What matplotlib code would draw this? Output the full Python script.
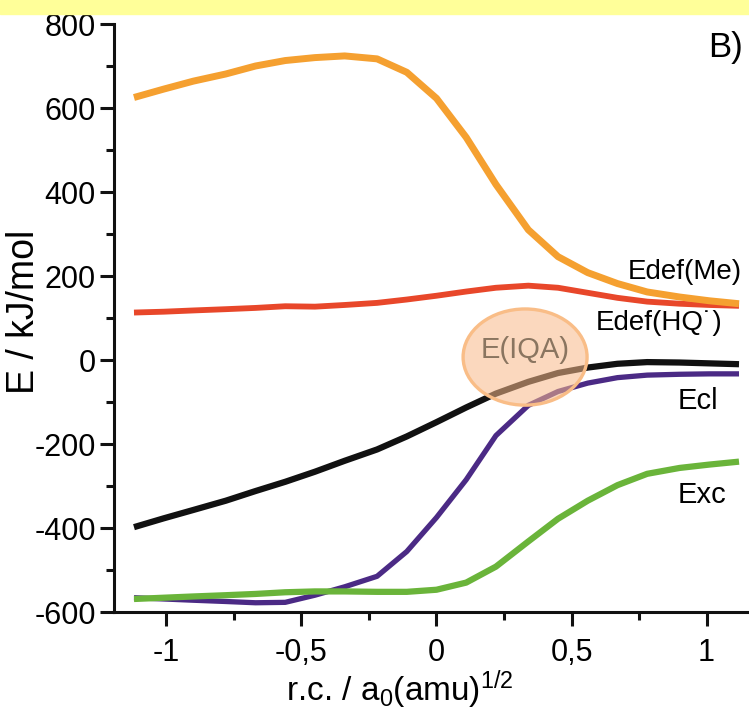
import matplotlib

matplotlib.use("Agg")
from matplotlib import pyplot as plt
from matplotlib.patches import Ellipse, Rectangle
from matplotlib.ticker import FixedLocator, MultipleLocator

# reaction coordinate, a0 (amu)^1/2
rc = [-1.12, -1.01, -0.90, -0.78, -0.67, -0.56, -0.45, -0.34, -0.22, -0.11, 0.0,
      0.11, 0.22, 0.34, 0.45, 0.56, 0.67, 0.78, 0.90, 1.01, 1.12]

# energies in kJ/mol
edef_me = [625, 645, 664, 681, 700, 713, 720, 724, 717, 685, 623,
           530, 418, 310, 246, 208, 182, 162, 150, 141, 134]
edef_hq = [113, 115, 118, 121, 124, 128, 127, 131, 136, 144, 153,
           163, 172, 177, 172, 160, 148, 139, 134, 131, 129]
e_iqa = [-398, -377, -357, -335, -312, -290, -266, -240, -213, -182, -148,
         -113, -80, -52, -31, -18, -9, -5, -6, -8, -10]
e_cl = [-566, -569, -572, -575, -578, -577, -560, -540, -515, -456, -375,
        -285, -180, -108, -75, -55, -42, -36, -34, -33, -33]
e_xc = [-569, -566, -563, -560, -557, -553, -551, -551, -552, -552, -547,
        -530, -492, -432, -378, -335, -298, -271, -257, -249, -242]

x_ticks = [-1.0, -0.5, 0.0, 0.5, 1.0]
x_ticklabels = ["-1", "-0,5", "0", "0,5", "1"]
y_ticks = [-600, -400, -200, 0, 200, 400, 600, 800]

plt.rcParams["font.family"] = ["Liberation Sans", "DejaVu Sans"]
plt.rcParams["axes.unicode_minus"] = False
plt.rcParams["mathtext.fontset"] = "custom"
plt.rcParams["mathtext.rm"] = "Liberation Sans"
plt.rcParams["mathtext.it"] = "Liberation Sans"

W, H = 749, 718
fig = plt.figure(figsize=(W / 100, H / 100), dpi=100)
fig.patches.append(
    Rectangle((0, 1 - 14 / H), 1, 14 / H, transform=fig.transFigure,
              color="#ffff99", zorder=0)
)

ax = fig.add_axes([114 / W, 1 - 612 / H, 635 / W, 588 / H])

ax.plot(rc, edef_hq, color="#e8472a", lw=4.2, solid_capstyle="butt", zorder=2)
ax.plot(rc, edef_me, color="#f5a030", lw=5.0, solid_capstyle="butt", zorder=3)
ax.plot(rc, e_cl, color="#4b2a85", lw=3.8, solid_capstyle="butt", zorder=2)
ax.plot(rc, e_iqa, color="#111111", lw=4.5, solid_capstyle="butt", zorder=3)
ax.plot(rc, e_xc, color="#6ab43a", lw=4.5, solid_capstyle="butt", zorder=3)

ax.add_patch(Ellipse((0.328, 7), 0.459, 229, facecolor="#f8b98a", alpha=0.55,
                     edgecolor="none", zorder=5))
ax.add_patch(Ellipse((0.328, 7), 0.459, 229, facecolor="none",
                     edgecolor="#f9bd87", lw=2.4, zorder=6))
ax.text(0.328, 24, "E(IQA)", color="#8a7560", fontsize=21,
        ha="center", va="center", zorder=7)

ax.text(1.131, 210, "Edef(Me)", fontsize=20, ha="right", va="center")
ax.text(1.06, 88, "Edef(HQ˙)", fontsize=20, ha="right", va="center")
ax.text(0.894, -98, "Ecl", fontsize=21, ha="left", va="center")
ax.text(0.894, -321, "Exc", fontsize=21, ha="left", va="center")
ax.text(1.069, 743, "B)", fontsize=25, ha="center", va="center")

ax.set_xlim(-1.194, 1.157)
ax.set_ylim(-600, 800)

ax.xaxis.set_major_locator(FixedLocator(x_ticks))
ax.set_xticklabels(x_ticklabels)
ax.xaxis.set_minor_locator(MultipleLocator(0.25))
ax.set_yticks(y_ticks)
ax.yaxis.set_minor_locator(MultipleLocator(100))

for side in ("top", "right"):
    ax.spines[side].set_visible(False)
for side in ("left", "bottom"):
    ax.spines[side].set_linewidth(2.2)
    ax.spines[side].set_color("#111111")

ax.tick_params(which="major", length=10, width=2.2, labelsize=22, color="#111111")
ax.tick_params(which="minor", length=6, width=2.2, color="#111111")
ax.tick_params(axis="x", which="major", pad=9)
ax.tick_params(axis="y", which="major", pad=3)

ax.set_ylabel("E / kJ/mol", fontsize=27)
ax.yaxis.set_label_coords(-0.113, 0.51)
ax.set_xlabel("r.c. / a$_0$(amu)$^{1/2}$", fontsize=24)
ax.xaxis.set_label_coords(0.45, -0.095)

fig.savefig("out.png", dpi=100)
plt.close(fig)
